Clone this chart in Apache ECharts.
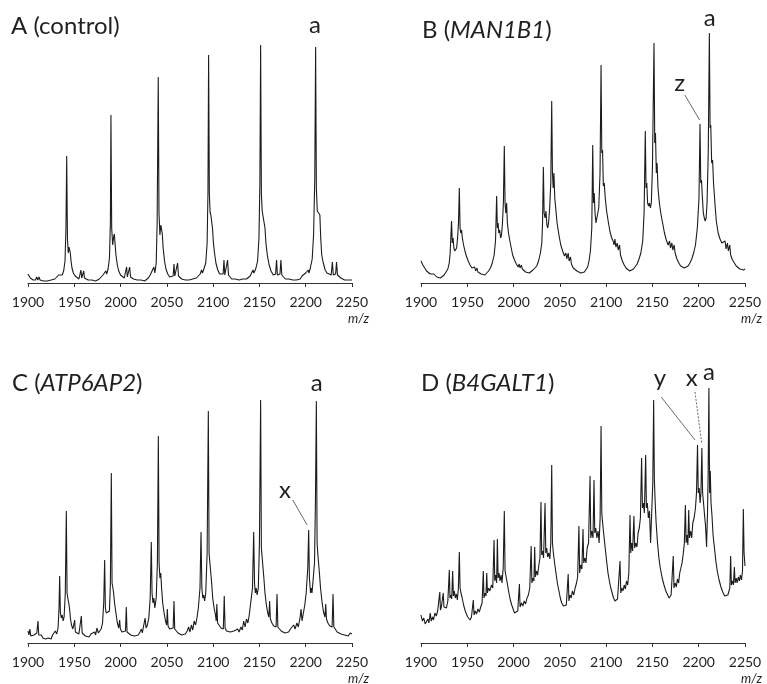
<!DOCTYPE html>
<html>
<head>
<meta charset="utf-8">
<title>MALDI spectra</title>
<script src="https://cdn.jsdelivr.net/npm/echarts@6/dist/echarts.min.js"></script>
<style>
  html, body { margin: 0; padding: 0; background: #fff; }
  #chart { width: 767px; height: 684px; }
</style>
</head>
<body>
<div id="chart"></div>
<script>
// m/z range and ticks
const mzMin = 1900
const mzMax = 2250
const mzStep = 50
const intMax = 273

// spectra: [m/z, intensity (a.u.)]
const spectrumA = [
  [1900, 9], [1901, 7], [1902.5, 5], [1904, 4], [1905.5, 3], [1907, 4], [1908, 3], [1909.5, 6], [1910.5, 3], [1912, 6],
  [1913, 3], [1915, 4], [1917, 2], [1919, 3], [1921, 2], [1923, 3], [1925, 3], [1927, 2], [1929, 4], [1931, 5],
  [1933, 8], [1934, 10], [1935, 6], [1937, 8], [1938.5, 12], [1940, 22], [1941, 55], [1941.8, 127], [1942.6, 45], [1943.5, 30],
  [1944.3, 36], [1945, 38], [1945.7, 30], [1946.5, 22], [1947.5, 15], [1949, 10], [1951, 7], [1953, 5], [1955, 4], [1956.5, 5],
  [1957.2, 13], [1958, 5], [1959, 6], [1960.2, 12], [1961, 5], [1963, 4], [1965, 3], [1967, 2], [1969, 3], [1971, 3],
  [1973, 2], [1975, 3], [1977, 4], [1979, 6], [1981, 8], [1983, 9], [1984, 12], [1985, 9], [1986.5, 14], [1988, 25],
  [1989, 60], [1989.6, 168], [1990.4, 55], [1991.5, 38], [1992.5, 46], [1993.3, 49], [1994, 40], [1995, 28], [1996.5, 18], [1998, 12],
  [2000, 8], [2002, 6], [2004, 5], [2005.5, 6], [2006.5, 16], [2007.3, 6], [2008.5, 7], [2009.8, 16], [2010.8, 6], [2012, 4],
  [2014, 4], [2016, 3], [2018, 3], [2020, 2], [2022, 3], [2024, 3], [2026, 2], [2028, 4], [2030, 5], [2032, 8],
  [2034, 10], [2036, 16], [2037, 10], [2038.5, 20], [2039.5, 60], [2040.7, 206], [2041.5, 70], [2042.5, 48], [2043.5, 58], [2044.3, 60],
  [2045, 50], [2046, 35], [2047.5, 22], [2049, 14], [2051, 9], [2053, 6], [2055, 5], [2056.8, 7], [2057.7, 19], [2058.6, 7],
  [2060.5, 8], [2061.6, 20], [2062.6, 7], [2064, 5], [2066, 4], [2068, 3], [2070, 3], [2072, 2], [2074, 3], [2076, 3],
  [2078, 4], [2080, 3], [2082, 5], [2084, 7], [2086, 9], [2087.5, 13], [2088.5, 10], [2090, 14], [2092, 20], [2093.5, 40],
  [2094.4, 90], [2095.1, 228], [2095.9, 90], [2096.7, 71], [2097.5, 68], [2098.5, 70], [2099.3, 55], [2100.3, 40], [2101.5, 30], [2103, 20],
  [2105, 13], [2107, 9], [2109, 7], [2110.8, 9], [2111.7, 23], [2112.6, 8], [2114.5, 9], [2115.6, 23], [2116.6, 8], [2118, 6],
  [2120, 4], [2122, 3], [2124, 4], [2126, 3], [2128, 3], [2130, 2], [2132, 4], [2134, 3], [2136, 4], [2138, 5],
  [2140, 7], [2142, 9], [2143, 13], [2144, 10], [2146, 14], [2148, 22], [2149.5, 45], [2150.5, 100], [2151.3, 238], [2152.1, 90],
  [2153, 72], [2154, 70], [2155, 72], [2156, 55], [2157, 40], [2158.5, 28], [2160.5, 18], [2162.5, 12], [2165, 8], [2167.5, 9],
  [2168.5, 23], [2169.4, 8], [2172.2, 9], [2173.2, 23], [2174.2, 8], [2176, 6], [2178, 4], [2180, 3], [2182, 4], [2184, 3],
  [2186, 3], [2188, 4], [2190, 3], [2192, 5], [2194, 4], [2196, 7], [2198, 8], [2200, 10], [2202, 9], [2202.7, 13],
  [2203.5, 10], [2205, 15], [2207, 24], [2208.5, 48], [2209.8, 105], [2210.7, 236], [2211.5, 95], [2212.5, 72], [2213.5, 72], [2214.5, 70],
  [2215.3, 68], [2216.2, 45], [2217.3, 28], [2219, 20], [2221, 13], [2223, 10], [2225, 8], [2227.5, 8], [2228.8, 21], [2229.8, 8],
  [2232.3, 9], [2233.3, 21], [2234.3, 8], [2236, 6], [2238, 5], [2240, 4], [2242, 3], [2244, 4], [2246, 3], [2248, 4],
  [2250, 3]
]

const spectrumB = [
  [1900, 22], [1902, 18], [1904, 15], [1906, 12], [1908, 10], [1910, 9], [1911, 11], [1912, 8], [1914, 9], [1915, 7],
  [1917, 6], [1919, 5], [1921, 5], [1923, 6], [1925, 8], [1927, 10], [1929, 14], [1930.5, 20], [1931.5, 30], [1932.2, 45],
  [1933, 62], [1933.8, 40], [1934.7, 45], [1935.5, 35], [1936.5, 32], [1937.5, 30], [1938.5, 35], [1939.5, 45], [1940.5, 60], [1941.4, 95],
  [1942.2, 55], [1943, 50], [1943.8, 53], [1944.7, 45], [1946, 38], [1947.5, 32], [1949, 27], [1951, 22], [1953, 18], [1955, 15],
  [1957, 13], [1958, 16], [1959, 12], [1960.5, 15], [1961.5, 11], [1963, 10], [1965, 9], [1967, 8], [1969, 8], [1971, 10],
  [1973, 12], [1975, 15], [1977, 20], [1979, 28], [1980.5, 42], [1981.7, 87], [1982.5, 55], [1983.3, 60], [1984, 50], [1985, 53],
  [1986, 45], [1987, 48], [1988, 60], [1989, 80], [1990, 137], [1990.8, 80], [1991.6, 70], [1992.5, 80], [1993.3, 60], [1994.5, 50],
  [1996, 42], [1997.5, 35], [1999, 28], [2001, 23], [2003, 19], [2005, 16], [2006, 19], [2007, 15], [2008.5, 18], [2009.5, 14],
  [2011, 12], [2013, 11], [2015, 10], [2017, 10], [2019, 11], [2021, 13], [2023, 14], [2025, 17], [2027, 22], [2029, 30],
  [2030.5, 40], [2031.3, 60], [2032.2, 116], [2033, 70], [2034, 65], [2035, 72], [2036, 58], [2037, 55], [2038, 62], [2039, 75],
  [2040.2, 100], [2041.2, 182], [2042, 110], [2042.8, 95], [2043.6, 110], [2044.5, 85], [2045.5, 75], [2047, 60], [2049, 48], [2051, 38],
  [2053, 32], [2055, 27], [2056.5, 30], [2057.5, 24], [2059, 30], [2060, 22], [2061.5, 26], [2062.5, 19], [2064.5, 15], [2066.5, 13],
  [2068.5, 12], [2070.5, 11], [2072.5, 10], [2074.5, 10], [2076.5, 11], [2078.5, 13], [2080, 16], [2081.5, 22], [2083, 32], [2084.5, 55],
  [2085.5, 138], [2086.3, 80], [2087.1, 90], [2088, 70], [2089, 60], [2090, 62], [2091, 60], [2092, 75], [2093.4, 110], [2094.5, 218],
  [2095.3, 130], [2096.1, 133], [2097, 97], [2098, 100], [2099, 85], [2100.5, 72], [2102, 63], [2104, 52], [2106, 45], [2107.5, 42],
  [2108.5, 38], [2109.5, 44], [2110.5, 36], [2112, 40], [2113, 33], [2114.5, 38], [2115.5, 28], [2117.5, 22], [2119.5, 18], [2121.5, 15],
  [2123.5, 14], [2125.5, 12], [2127.5, 13], [2129.5, 14], [2131.5, 16], [2133.5, 19], [2135.5, 24], [2137.5, 30], [2139.5, 42], [2141, 70],
  [2142.3, 152], [2143.1, 95], [2143.9, 100], [2144.8, 80], [2145.8, 77], [2146.8, 80], [2147.8, 75], [2148.8, 80], [2150, 115], [2151.7, 240],
  [2152.5, 140], [2153.3, 150], [2154.2, 110], [2155, 120], [2156, 95], [2157.5, 80], [2159, 70], [2161, 60], [2163, 50], [2165, 43],
  [2167, 38], [2168.5, 42], [2169.5, 35], [2171, 40], [2172, 33], [2173.5, 38], [2174.5, 30], [2176.5, 24], [2178.5, 20], [2180.5, 17],
  [2182.5, 16], [2184.5, 15], [2186.5, 16], [2188.5, 17], [2190.5, 20], [2192.5, 24], [2194.5, 30], [2196.5, 38], [2198.5, 55], [2200.3, 85],
  [2201.4, 159], [2202.2, 100], [2203, 103], [2204, 85], [2205, 70], [2206, 65], [2207, 62], [2208, 65], [2209, 80], [2210.3, 130],
  [2211.5, 250], [2212.3, 155], [2213, 158], [2214, 120], [2215, 123], [2216, 100], [2217.5, 80], [2219, 62], [2221, 50], [2223, 44],
  [2225, 40], [2227, 38], [2228.5, 42], [2229.5, 34], [2231, 40], [2232, 32], [2233.5, 38], [2234.5, 28], [2236.5, 23], [2238.5, 20],
  [2240.5, 17], [2242.5, 16], [2244.5, 14], [2246.5, 15], [2248.5, 13], [2250, 14]
]

const spectrumC = [
  [1900, 12], [1901, 8], [1902, 14], [1903, 7], [1904, 9], [1905, 6], [1906.5, 8], [1908, 6], [1909.5, 10], [1910.8, 22],
  [1911.6, 8], [1913, 6], [1914.5, 8], [1916, 5], [1917.5, 6], [1919, 4], [1920.5, 6], [1922, 5], [1923.5, 7], [1925, 4],
  [1926.5, 8], [1928, 6], [1929.5, 12], [1931, 9], [1932.5, 15], [1933.5, 35], [1934.2, 67], [1935, 30], [1936, 25], [1937, 28],
  [1938, 22], [1939, 26], [1940.3, 50], [1941.4, 132], [1942.2, 50], [1943, 45], [1944, 40], [1944.8, 35], [1945.8, 25], [1947, 18],
  [1948.5, 14], [1949.8, 12], [1950.4, 23], [1951.2, 11], [1953, 10], [1955, 9], [1956.8, 11], [1957.6, 27], [1958.5, 10], [1960, 9],
  [1962, 7], [1964, 8], [1966, 6], [1968, 9], [1970, 7], [1972, 11], [1973, 8], [1974.5, 15], [1976, 10], [1977.5, 12],
  [1979, 14], [1980.5, 20], [1981.8, 40], [1982.8, 83], [1983.6, 35], [1984.5, 30], [1985.5, 32], [1986.5, 28], [1988, 32], [1989, 60],
  [1990, 170], [1990.8, 60], [1991.7, 55], [1992.5, 50], [1993.5, 40], [1995, 30], [1996.5, 20], [1998, 15], [1999, 23], [1999.8, 14],
  [2001.5, 11], [2003, 10], [2005.3, 12], [2006.2, 36], [2007, 11], [2009, 9], [2011, 8], [2013, 10], [2015, 7], [2017, 9],
  [2019, 8], [2021, 11], [2022.5, 14], [2023.5, 10], [2025, 12], [2026.5, 25], [2027.5, 15], [2029, 18], [2030.5, 25], [2032, 45],
  [2033.2, 101], [2034, 50], [2035, 40], [2036, 45], [2037, 35], [2038.5, 45], [2039.8, 80], [2040.8, 207], [2041.6, 80], [2042.5, 65],
  [2043.4, 70], [2044.3, 55], [2045.5, 40], [2047, 30], [2048.5, 22], [2049.8, 18], [2050.5, 34], [2051.3, 17], [2053, 14], [2055, 12],
  [2056.8, 15], [2057.7, 42], [2058.5, 14], [2060, 12], [2062, 10], [2064, 11], [2066, 8], [2068, 10], [2070, 9], [2072, 12],
  [2073.5, 16], [2075, 11], [2076.5, 18], [2078, 13], [2079.5, 22], [2081, 18], [2082.5, 25], [2084, 35], [2085.8, 55], [2086.9, 111],
  [2087.8, 55], [2088.8, 45], [2089.8, 48], [2090.8, 42], [2092, 50], [2093.5, 90], [2094.8, 232], [2095.6, 90], [2096.5, 80], [2097.4, 82],
  [2098.4, 60], [2099.5, 45], [2101, 35], [2102.5, 28], [2103.3, 22], [2104, 39], [2104.8, 20], [2106.5, 18], [2108.5, 15], [2111, 14],
  [2112, 47], [2112.9, 15], [2114.5, 12], [2116.5, 10], [2118.5, 11], [2120.5, 9], [2122.5, 12], [2124.5, 10], [2126.5, 14], [2128, 11],
  [2130, 16], [2131.5, 13], [2133, 22], [2134.5, 16], [2136, 24], [2137.5, 20], [2139, 28], [2140.5, 30], [2142.5, 55], [2143.8, 111],
  [2144.7, 60], [2145.6, 50], [2146.5, 55], [2147.5, 48], [2148.8, 55], [2150, 100], [2151.3, 243], [2152.1, 95], [2153, 85], [2153.8, 87],
  [2154.8, 65], [2156, 50], [2157.5, 38], [2159, 30], [2160.2, 26], [2161, 42], [2161.8, 24], [2163.5, 20], [2165.5, 17], [2168, 16],
  [2169, 49], [2169.9, 16], [2171.5, 14], [2173.5, 12], [2175.5, 13], [2177.5, 10], [2179.5, 12], [2181.5, 11], [2183.5, 14], [2185, 12],
  [2187, 18], [2188.5, 14], [2190.5, 20], [2192, 16], [2194, 26], [2195, 34], [2196, 22], [2197.5, 30], [2199, 38], [2200.5, 50],
  [2202.2, 75], [2203.2, 113], [2204, 65], [2205.2, 50], [2206, 55], [2206.8, 50], [2208, 48], [2209.5, 80], [2210.5, 140], [2211.5, 242],
  [2212.3, 100], [2213, 90], [2213.8, 90], [2214.8, 70], [2216, 55], [2217.5, 42], [2219, 32], [2220.8, 26], [2221.6, 39], [2222.4, 24],
  [2224, 20], [2226, 17], [2228.5, 16], [2229.5, 49], [2230.4, 16], [2232, 14], [2234, 11], [2236, 12], [2238, 9], [2240, 11],
  [2242, 8], [2244, 10], [2246, 7], [2248, 10], [2250, 9]
]

const spectrumD = [
  [1900, 28], [1901.5, 22], [1903, 25], [1904.5, 19], [1906, 17], [1907.5, 24], [1908.5, 20], [1910, 30], [1911, 22], [1912.5, 26],
  [1913.5, 23], [1915, 30], [1916.5, 27], [1918, 32], [1919, 30], [1920.3, 51], [1921, 33], [1922, 36], [1923, 34], [1924, 50],
  [1924.8, 36], [1926, 38], [1927.5, 35], [1929, 42], [1930.6, 73], [1931.3, 45], [1932.3, 48], [1933.2, 44], [1934.2, 72], [1935, 47],
  [1936, 52], [1937, 45], [1938.2, 49], [1939.3, 43], [1940.4, 55], [1941.4, 91], [1942.2, 55], [1943.2, 50], [1944.5, 45], [1946, 38],
  [1947.5, 33], [1949, 29], [1950.5, 26], [1952, 24], [1953, 23], [1954.5, 26], [1955.5, 24], [1956.5, 43], [1957.3, 28], [1958.5, 32],
  [1960, 29], [1961.5, 34], [1963, 31], [1964.5, 36], [1966, 40], [1967.3, 72], [1968, 45], [1969.2, 50], [1970.2, 47], [1971, 70],
  [1971.8, 50], [1973, 55], [1974.5, 52], [1976, 58], [1977.5, 55], [1978.9, 103], [1979.7, 62], [1980.8, 68], [1981.7, 60], [1982.5, 104],
  [1983.3, 65], [1984.3, 70], [1985.3, 62], [1986.5, 68], [1987.5, 60], [1988.8, 75], [1990, 132], [1990.8, 72], [1992, 66], [1993.5, 58],
  [1995, 50], [1996.5, 43], [1998, 38], [1999.5, 34], [2001, 30], [2003, 28], [2004.5, 32], [2005.5, 30], [2006.3, 59], [2007, 36],
  [2008.5, 40], [2010, 37], [2011.5, 42], [2013, 39], [2014.5, 45], [2016, 48], [2017.5, 55], [2019, 97], [2019.8, 60], [2021, 65],
  [2022, 62], [2022.8, 96], [2023.6, 66], [2024.8, 72], [2026, 68], [2027.3, 78], [2028.5, 85], [2029.6, 141], [2030.4, 88], [2031.4, 92],
  [2032.4, 85], [2034, 140], [2034.8, 90], [2035.8, 95], [2036.8, 86], [2038, 90], [2039.2, 84], [2040.2, 100], [2041.2, 178], [2042, 100],
  [2043, 90], [2044.3, 80], [2045.8, 70], [2047.3, 60], [2049, 52], [2050.5, 45], [2052, 40], [2053.8, 37], [2055.6, 35], [2057, 38],
  [2058, 36], [2059, 69], [2059.8, 42], [2061, 48], [2062.2, 45], [2063.5, 52], [2065, 48], [2066.5, 55], [2068, 60], [2069.2, 66],
  [2070.6, 117], [2071.4, 70], [2072.5, 78], [2073.8, 74], [2075, 114], [2075.8, 80], [2077, 85], [2078.2, 80], [2079.5, 95], [2081, 100],
  [2082.6, 167], [2083.4, 105], [2084.5, 112], [2085.8, 105], [2086.9, 163], [2087.7, 110], [2088.8, 115], [2090, 105], [2091.3, 112], [2092.4, 100],
  [2093.5, 125], [2094.5, 217], [2095.3, 130], [2096.2, 120], [2097.5, 108], [2099, 95], [2100.5, 82], [2102, 70], [2103.5, 62], [2105, 55],
  [2106.5, 50], [2108, 45], [2109.5, 42], [2111, 40], [2112.3, 44], [2113.5, 42], [2115, 82], [2115.8, 50], [2117, 55], [2118.2, 52],
  [2119.5, 58], [2120.8, 54], [2122, 62], [2123.3, 58], [2124.5, 70], [2125.8, 128], [2126.6, 90], [2127.6, 100], [2128.6, 92], [2130, 127],
  [2130.8, 95], [2132, 100], [2133.3, 96], [2134.5, 110], [2135.8, 115], [2137, 125], [2138.3, 185], [2139.2, 135], [2140.2, 140], [2141.3, 130],
  [2142.7, 188], [2143.5, 135], [2144.5, 140], [2145.6, 125], [2146.8, 132], [2148, 100], [2149.2, 130], [2150.4, 160], [2151.3, 243], [2152.1, 163],
  [2153, 140], [2154, 120], [2155.5, 100], [2157, 85], [2158.5, 75], [2160.5, 65], [2162.5, 58], [2164.5, 52], [2166.5, 48], [2168, 45],
  [2169, 43], [2170.2, 48], [2171.3, 46], [2172.5, 87], [2173.3, 55], [2174.5, 60], [2175.8, 56], [2177, 64], [2178.3, 60], [2179.5, 70],
  [2180.8, 68], [2182, 80], [2183.4, 90], [2184.5, 100], [2185.6, 138], [2186.4, 100], [2187.4, 108], [2188.3, 98], [2189.2, 133], [2190, 105],
  [2191.2, 112], [2192.4, 105], [2193.6, 120], [2195, 125], [2196.5, 135], [2197.6, 150], [2198.7, 198], [2199.5, 150], [2200.5, 155], [2201.5, 140],
  [2202.4, 150], [2203.4, 195], [2204.2, 150], [2205.2, 140], [2206.3, 128], [2207.3, 118], [2208.5, 96], [2209.5, 130], [2210.2, 170], [2211, 255],
  [2211.8, 150], [2212.5, 172], [2213.3, 140], [2214.3, 128], [2215.5, 108], [2217, 95], [2218.5, 82], [2220, 72], [2222, 63], [2224, 56],
  [2226, 51], [2228, 47], [2230, 45], [2231.5, 48], [2232.5, 46], [2233.6, 55], [2234.5, 87], [2235.3, 58], [2236.5, 62], [2237.5, 58],
  [2238.5, 76], [2239.3, 60], [2240.5, 65], [2241.5, 60], [2242.8, 66], [2244, 62], [2245, 68], [2246.2, 63], [2247.3, 72], [2248.2, 134],
  [2249, 90], [2250, 77]
]

// panel titles
const panelTitles = ['A (control)', 'B ({i|MAN1B1})', 'C ({i|ATP6AP2})', 'D ({i|B4GALT1})']

// peak labels: [panel, text, m/z, intensity]
const peakLabels = [
  [0, 'a', 2210, 258],
  [1, 'a', 2212, 265], [1, 'z', 2179.5, 200],
  [2, 'a', 2212, 260], [2, 'x', 2177.5, 153],
  [3, 'y', 2158, 265], [3, 'x', 2192.5, 265], [3, 'a', 2211, 271]
]

// leader lines: [panel, from m/z, from int, to m/z, to int, dashed]
const leaders = [
  [1, 2185, 188, 2201, 163, false],
  [2, 2186, 143, 2201.5, 118, false],
  [3, 2159.5, 246, 2196, 203, false],
  [3, 2196, 251, 2203.2, 200, true]
]

const spectra = [spectrumA, spectrumB, spectrumC, spectrumD]
const gridPos = [
  { left: 28, top: 10 },
  { left: 421, top: 10 },
  { left: 28, top: 370 },
  { left: 421, top: 370 }
]
const titlePos = [
  { left: 11, top: 14 },
  { left: 422, top: 18 },
  { left: 12, top: 371 },
  { left: 421, top: 371 }
]
const textColor = '#231f20'
const font = 'Lato, "Open Sans", sans-serif'

const chart = echarts.init(document.getElementById('chart'))

const titles = []
panelTitles.forEach((t, i) => {
  titles.push({
    text: t,
    left: titlePos[i].left,
    top: titlePos[i].top,
    padding: 0,
    textStyle: {
      fontFamily: font, fontSize: 24, fontWeight: 'normal', color: textColor,
      rich: { i: { fontFamily: font, fontSize: 24, fontStyle: 'italic', color: textColor } }
    }
  })
  titles.push({
    text: 'm/z',
    left: gridPos[i].left + 320,
    top: gridPos[i].top + 302,
    padding: 0,
    textStyle: { fontFamily: font, fontSize: 13, fontStyle: 'italic', fontWeight: 'normal', color: textColor }
  })
})

const option = {
  backgroundColor: '#fff',
  animation: false,
  title: titles,
  grid: gridPos.map(p => ({ left: p.left, top: p.top, width: 324, height: intMax })),
  xAxis: gridPos.map((p, i) => ({
    type: 'value',
    gridIndex: i,
    min: mzMin,
    max: mzMax,
    interval: mzStep,
    axisLine: { show: true, onZero: false, lineStyle: { color: '#333', width: 1 } },
    axisTick: { show: true, length: 4, lineStyle: { color: '#333' } },
    axisLabel: { fontFamily: font, fontSize: 14, color: textColor, margin: 12, formatter: v => String(v) },
    splitLine: { show: false }
  })),
  yAxis: gridPos.map((p, i) => ({
    type: 'value',
    gridIndex: i,
    min: 0,
    max: intMax,
    show: false
  })),
  series: spectra.map((data, i) => ({
    type: 'line',
    xAxisIndex: i,
    yAxisIndex: i,
    data: data,
    showSymbol: false,
    silent: true,
    lineStyle: { color: '#1c1c1c', width: 1.1 },
    markPoint: {
      symbol: 'circle',
      symbolSize: 1,
      itemStyle: { color: 'rgba(0,0,0,0)' },
      label: {
        show: true,
        position: 'inside',
        formatter: '{b}',
        fontFamily: font,
        fontSize: 24,
        color: textColor
      },
      data: peakLabels.filter(l => l[0] === i).map(l => ({ name: l[1], coord: [l[2], l[3]] }))
    },
    markLine: {
      silent: true,
      symbol: ['none', 'none'],
      label: { show: false },
      data: leaders.filter(l => l[0] === i).map(l => [
        { coord: [l[1], l[2]], lineStyle: { color: '#444', width: 0.8, type: l[5] ? [2, 1.5] : 'solid' } },
        { coord: [l[3], l[4]] }
      ])
    }
  }))
}

chart.setOption(option)
</script>
</body>
</html>
